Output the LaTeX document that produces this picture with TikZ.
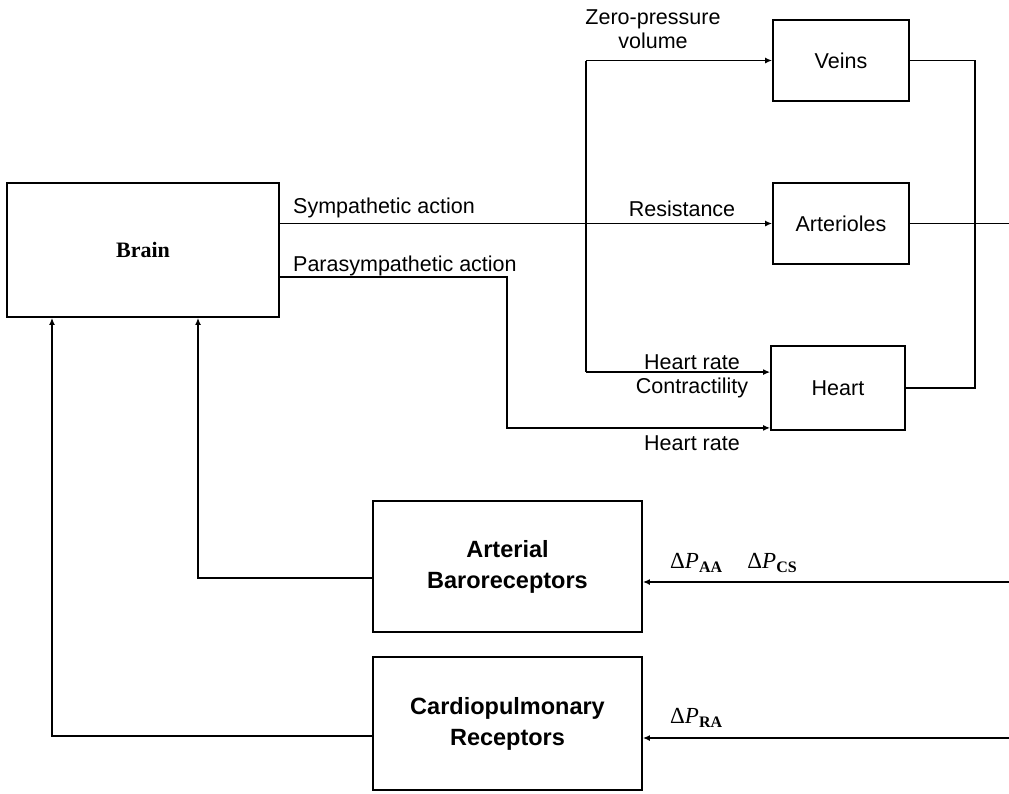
\documentclass[tikz,border=0pt]{standalone}
\usepackage{fontspec}
\setmainfont{Liberation Serif}
\setsansfont{Liberation Sans}
\usetikzlibrary{arrows.meta,calc}
\begin{document}
\begin{tikzpicture}[x=1pt,y=-1pt,
  box/.style={draw,line width=1.8pt,inner sep=0pt,align=center,font=\sffamily\fontsize{21.5}{24}\selectfont},
  bbox/.style={box,font=\sffamily\bfseries\fontsize{23.5}{31}\selectfont},
  lbl/.style={inner sep=0pt,font=\sffamily\fontsize{21.5}{24}\selectfont},
  dp/.style={inner sep=0pt,font=\fontsize{23}{26}\selectfont},
  wire/.style={line width=1.8pt},
  arr/.style={wire,-{Latex[length=7pt,width=6pt]}}]
\useasboundingbox (0,0) rectangle (1009,793);
% boxes
\node[box,minimum width=272pt,minimum height=134pt,font=\bfseries\fontsize{22}{24}\selectfont] (brain) at (143,250) {Brain};
\node[box,minimum width=136pt,minimum height=81pt] (veins) at (841,60.5) {Veins};
\node[box,minimum width=136pt,minimum height=81pt] (art) at (841,223.5) {Arterioles};
\node[box,minimum width=134pt,minimum height=84pt] (heart) at (838,388) {Heart};
\node[bbox,minimum width=269pt,minimum height=131pt] (baro) at (507.5,566.5) {Arterial\\Baroreceptors};
\node[bbox,minimum width=269pt,minimum height=133pt] (cardio) at (507.5,723.5) {Cardiopulmonary\\Receptors};
% helper coordinates
\coordinate (jx) at (586,0);
\coordinate (px) at (507,0);
\coordinate (rx) at (975,0);
\coordinate (edge) at (1009,0);
\coordinate (bx) at (198,0);
\coordinate (cx) at (52,0);
\coordinate (hin1) at ($(heart.north west)+(0,27)$);
\coordinate (hin2) at ($(heart.south west)+(0,-3)$);
\coordinate (par) at ($(brain.north east)+(0,95)$);
\coordinate (bin) at ($(baro.west)+(0,11.5)$);
\coordinate (bin2) at ($(baro.east)+(0,15.5)$);
\coordinate (cin) at ($(cardio.west)+(0,12.5)$);
\coordinate (cin2) at ($(cardio.east)+(0,14.5)$);
% efferent
\draw[arr] (brain.east |- art.west) -- (art.west);
\draw[arr] (jx |- veins.west) -- (veins.west);
\draw[wire] (jx |- veins.west) -- (jx |- hin1);
\draw[arr] (jx |- hin1) -- (hin1);
\draw[arr] (par) -- (px |- par) -- (px |- hin2) -- (hin2);
% outputs
\draw[wire] (veins.east) -- (rx |- veins.east) -- (rx |- heart.east) -- (heart.east);
\draw[wire] (art.east) -- (edge |- art.east);
% afferent
\draw[arr] (edge |- bin2) -- (bin2);
\draw[arr] (edge |- cin2) -- (cin2);
\draw[arr] (bin) -- (bx |- bin) -- (bx |- brain.south);
\draw[arr] (cin) -- (cx |- cin) -- (cx |- brain.south);
% labels
\node[lbl,anchor=west] (l1) at (293,208) {Sympathetic action};
\node[lbl,anchor=west] (l2) at (293,266) {Parasympathetic action};
\node[lbl] (l3) at (653,19) {Zero-pressure};
\node[lbl] (l4) at (653,41) {volume};
\node[lbl] (l5) at (682,209) {Resistance};
\node[lbl] (l6) at (692,362) {Heart rate};
\node[lbl] (l7) at (692,388) {Contractility};
\node[lbl] (l8) at (692,443) {Heart rate};
\node[dp,anchor=west] (l9) at (670,563) {Δ\textit{P}\raisebox{-0.35ex}{\fontsize{16}{18}\selectfont\textbf{AA}}\hspace{1.1em}Δ\textit{P}\raisebox{-0.35ex}{\fontsize{16}{18}\selectfont\textbf{CS}}};
\node[dp,anchor=west] (l10) at (670,718) {Δ\textit{P}\raisebox{-0.35ex}{\fontsize{16}{18}\selectfont\textbf{RA}}};
\end{tikzpicture}
\end{document}
